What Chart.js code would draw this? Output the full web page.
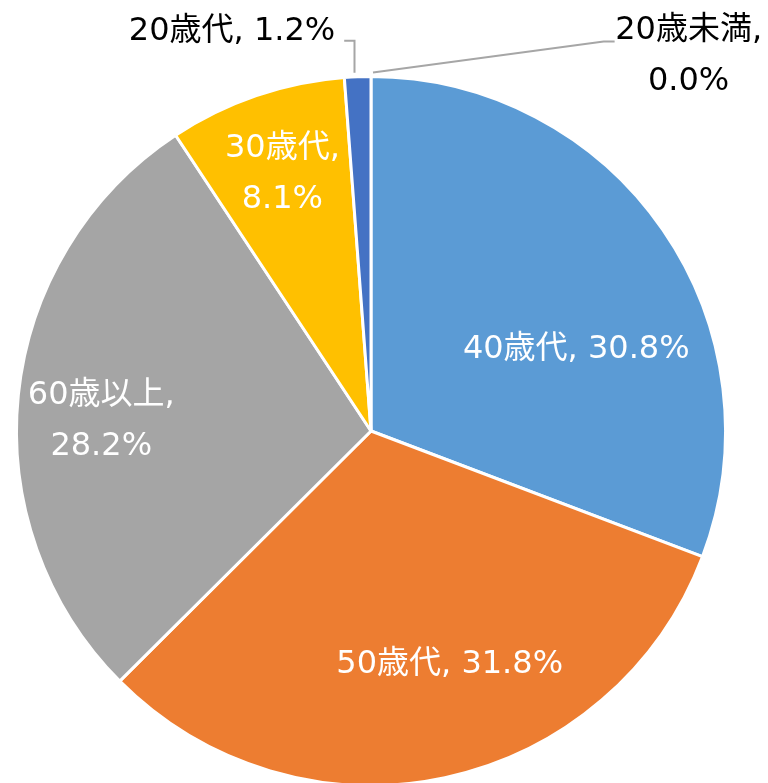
<!DOCTYPE html>
<html>
<head>
<meta charset="utf-8">
<script src="https://cdn.jsdelivr.net/npm/chart.js@4.4.0/dist/chart.umd.min.js"></script>
<style>
html,body{margin:0;padding:0;background:#fff;overflow:hidden;}
#wrap{position:relative;width:768px;height:800px;}
</style>
</head>
<body>
<div id="wrap"><canvas id="c" width="768" height="800"></canvas></div>
<script>
// Data (clockwise from 12 o'clock)
const categories = ['40歳代', '50歳代', '60歳以上', '30歳代', '20歳代', '20歳未満'];
const values = [30.8, 31.8, 28.2, 8.1, 1.2, 0.0];
const colors = ['#5B9BD5', '#ED7D31', '#A5A5A5', '#FFC000', '#4472C4', '#70AD47'];

// Label layout: lines per label, position relative to pie centre in radius units
const labelLines = [
  ['40歳代, 30.8%'],
  ['50歳代, 31.8%'],
  ['60歳以上,', '28.2%'],
  ['30歳代,', '8.1%'],
  ['20歳代, 1.2%'],
  ['20歳未満,', '0.0%']
];
const labelPos = [
  [0.579, -0.239], [0.222, 0.652], [-0.761, -0.037], [-0.25, -0.733],
  [-0.101, -1.135], [0.896, -1.065]
];
const labelColor = ['#fff', '#fff', '#fff', '#fff', '#000', '#000'];
const labelAlign = ['center', 'center', 'center', 'center', 'right', 'center'];

const FONT = '32px "DejaVu Sans", "Noto Sans CJK JP", sans-serif';
const LINE_H = 51;
const TEXT_DY = 3;

const labelPlugin = {
  id: 'pieLabels',
  afterDatasetsDraw(chart) {
    const ctx = chart.ctx;
    const meta = chart.getDatasetMeta(0);
    const arc0 = meta.data[0];
    const cx = arc0.x, cy = arc0.y, r = arc0.outerRadius;
    ctx.save();
    ctx.font = FONT;
    ctx.textBaseline = 'middle';
    // leader lines for outside labels
    ctx.strokeStyle = '#A6A6A6';
    ctx.lineWidth = 2;
    meta.data.forEach((arc, i) => {
      if (i < 4) return;
      const mid = (arc.startAngle + arc.endAngle) / 2;
      const ex = cx + (r + 4) * Math.cos(mid);
      const ey = cy + (r + 4) * Math.sin(mid);
      const lx = cx + labelPos[i][0] * r;
      const ly = cy + labelPos[i][1] * r;
      ctx.beginPath();
      if (i === 4) {
        ctx.moveTo(lx + 9, ly + 12);
        ctx.lineTo(ex - 3, ly + 12);
        ctx.lineTo(ex - 3, ey);
      } else {
        ctx.moveTo(lx - 74, ly - 12);
        ctx.lineTo(lx - 85, ly - 12);
        ctx.lineTo(ex + 2, ey);
      }
      ctx.stroke();
    });
    meta.data.forEach((arc, i) => {
      const lines = labelLines[i];
      const lx = cx + labelPos[i][0] * r;
      const ly = cy + labelPos[i][1] * r + TEXT_DY;
      ctx.fillStyle = labelColor[i];
      ctx.textAlign = labelAlign[i];
      lines.forEach((t, k) => {
        const y = ly + (k - (lines.length - 1) / 2) * LINE_H;
        ctx.fillText(t, lx, y);
      });
    });
    ctx.restore();
  }
};

new Chart(document.getElementById('c'), {
  type: 'pie',
  data: {
    labels: categories,
    datasets: [{
      data: values,
      backgroundColor: colors,
      borderColor: '#ffffff',
      borderWidth: 3
    }]
  },
  options: {
    responsive: false,
    animation: false,
    layout: { padding: { left: 15, right: 41, top: 75, bottom: 13 } },
    plugins: { legend: { display: false }, tooltip: { enabled: false } }
  },
  plugins: [labelPlugin]
});
</script>
</body>
</html>
